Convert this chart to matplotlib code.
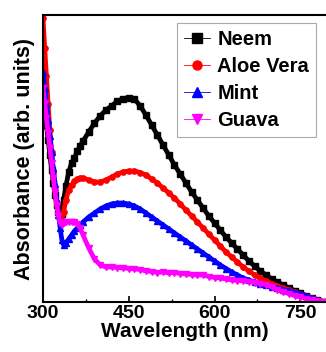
import matplotlib
matplotlib.use("Agg")
import matplotlib.pyplot as plt
from matplotlib.lines import Line2D

plt.rcParams['font.family'] = ['Liberation Sans', 'DejaVu Sans']
plt.rcParams['font.weight'] = 'bold'

wavelength = [300, 303, 306, 309, 312, 315, 318, 321, 324, 327, 330, 333, 336,
              340, 345, 350, 355, 360, 365, 370, 380, 390, 400, 410, 420, 430,
              440, 450, 460, 470, 480, 490, 500, 510, 520, 530, 540, 550, 560,
              570, 580, 590, 600, 610, 620, 630, 640, 650, 660, 670, 680, 690,
              700, 710, 720, 730, 740, 750, 760, 770, 780, 790, 795]

neem = [2.02, 1.90, 1.77, 1.62, 1.47, 1.32, 1.19, 1.07, 0.97, 0.90, 0.86, 0.88, 1.02,
        1.16, 1.30, 1.39, 1.44, 1.51, 1.56, 1.61, 1.70, 1.79, 1.86, 1.92, 1.96, 2.01,
        2.03, 2.045, 2.03, 1.96, 1.87, 1.77, 1.67, 1.57, 1.47, 1.37, 1.28, 1.19, 1.10,
        1.02, 0.94, 0.86, 0.79, 0.72, 0.65, 0.59, 0.53, 0.47, 0.41, 0.36, 0.31, 0.27,
        0.23, 0.20, 0.17, 0.14, 0.115, 0.09, 0.065, 0.04, 0.02, 0.005, 0.0]

aloe_vera = [2.84, 2.54, 2.26, 1.98, 1.72, 1.50, 1.30, 1.12, 0.98, 0.89, 0.83, 0.82, 0.90,
             1.02, 1.12, 1.17, 1.21, 1.23, 1.24, 1.24, 1.22, 1.20, 1.20, 1.22, 1.25, 1.28,
             1.30, 1.31, 1.31, 1.295, 1.27, 1.23, 1.19, 1.14, 1.09, 1.04, 0.98, 0.92, 0.86,
             0.80, 0.74, 0.68, 0.62, 0.56, 0.50, 0.45, 0.40, 0.35, 0.31, 0.27, 0.24, 0.21,
             0.185, 0.16, 0.14, 0.12, 0.10, 0.08, 0.06, 0.04, 0.02, 0.005, 0.0]

mint = [2.30, 2.14, 1.98, 1.82, 1.66, 1.50, 1.34, 1.18, 1.02, 0.87, 0.74, 0.62, 0.57,
        0.59, 0.63, 0.67, 0.71, 0.74, 0.77, 0.80, 0.85, 0.89, 0.93, 0.96, 0.98, 0.99,
        0.99, 0.98, 0.96, 0.93, 0.89, 0.85, 0.81, 0.77, 0.73, 0.69, 0.65, 0.61, 0.57,
        0.53, 0.49, 0.45, 0.41, 0.37, 0.335, 0.30, 0.27, 0.24, 0.22, 0.20, 0.185, 0.17,
        0.155, 0.14, 0.125, 0.11, 0.095, 0.08, 0.06, 0.04, 0.02, 0.005, 0.0]

guava = [2.14, 1.99, 1.84, 1.69, 1.54, 1.39, 1.24, 1.10, 0.97, 0.86, 0.79, 0.77, 0.79,
         0.80, 0.805, 0.805, 0.80, 0.78, 0.74, 0.67, 0.54, 0.43, 0.37, 0.35, 0.35, 0.345,
         0.34, 0.335, 0.33, 0.325, 0.31, 0.305, 0.295, 0.30, 0.29, 0.295, 0.285, 0.28, 0.275,
         0.27, 0.27, 0.255, 0.245, 0.24, 0.23, 0.22, 0.215, 0.21, 0.205, 0.195, 0.185, 0.175,
         0.15, 0.12, 0.10, 0.085, 0.065, 0.05, 0.035, 0.02, 0.01, 0.0, -0.01]

labels = ['Neem', 'Aloe Vera', 'Mint', 'Guava']
colors = ['#000000', '#ff0000', '#0000ff', '#ff00ff']
markers = ['s', 'o', '^', 'v']
series = [neem, aloe_vera, mint, guava]

W, H = 326, 352
fig = plt.figure(figsize=(W / 100, H / 100), dpi=100)
ax = fig.add_axes([43 / W, 1 - 302 / H, (W - 43) / W, (302 - 15) / H])

for ys, c, m in zip(series, colors, markers):
    ax.plot(wavelength, ys, color=c, lw=3.4, marker=m, ms=3.8, mec=c, mfc=c,
            solid_joinstyle='round', solid_capstyle='round', clip_on=True)

ax.set_xlim(300, 795)
ax.set_ylim(0, 2.87)
ax.set_xticks([300, 450, 600, 750])
ax.set_xticks([375, 525, 675], minor=True)
ax.set_yticks([])
ax.tick_params(axis='x', which='major', direction='in', length=4, width=1.2,
               labelsize=14, pad=2)
ax.tick_params(axis='x', which='minor', direction='in', length=2.5, width=1.0)
for lab in ax.get_xticklabels():
    lab.set_fontweight('bold')
for s in ['left', 'top', 'bottom']:
    ax.spines[s].set_linewidth(1.5)
ax.spines['right'].set_visible(False)

ax.set_xlabel('Wavelength (nm)', fontsize=15, fontweight='bold', labelpad=0)
ax.set_ylabel('Absorbance (arb. units)', fontsize=15.5, fontweight='bold', labelpad=6)

handles = [Line2D([], [], color=c, lw=0.6, marker=m, ms=6.5, mec=c, mfc=c)
           for c, m in zip(colors, markers)]
leg = fig.legend(handles, labels, loc='upper left',
                 bbox_to_anchor=(177 / W, 1 - 23 / H), bbox_transform=fig.transFigure,
                 fancybox=False, edgecolor='#aaaaaa', framealpha=1,
                 prop={'size': 14.5, 'weight': 'bold'}, labelspacing=0.4,
                 handlelength=1.3, handletextpad=0.35, borderpad=0.35,
                 borderaxespad=0)
leg.get_frame().set_linewidth(0.8)

fig.savefig('out.png', dpi=100)
